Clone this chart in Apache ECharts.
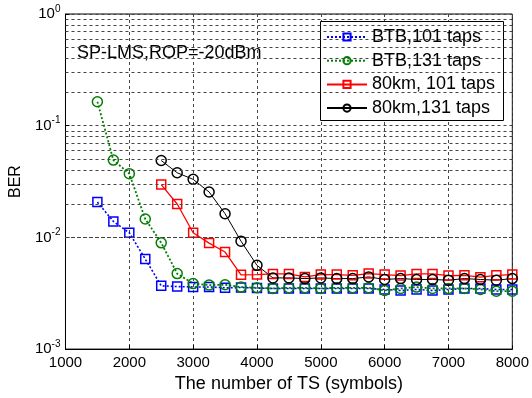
<!DOCTYPE html>
<html><head><meta charset="utf-8">
<script src="https://cdn.jsdelivr.net/npm/echarts@6/dist/echarts.min.js"></script>
<style>html,body{margin:0;padding:0;background:#fff}#c{width:532px;height:398px}</style>
</head><body><div id="c"></div>
<script>
const xBTB = [1500,1750,2000,2250,2500,2750,3000,3250,3500,3750,4000,4250,4500,4750,5000,5250,5500,5750,6000,6250,6500,6750,7000,7250,7500,7750,8000];
const x80km = [2500,2750,3000,3250,3500,3750,4000,4250,4500,4750,5000,5250,5500,5750,6000,6250,6500,6750,7000,7250,7500,7750,8000];
const berBTB101 = [0.0207,0.0139,0.0110,0.0064,0.00369,0.00363,0.0036,0.0036,0.00354,0.00356,0.00352,0.00349,0.00349,0.00349,0.00349,0.00349,0.00349,0.00349,0.00342,0.00335,0.00342,0.00335,0.00342,0.00349,0.00349,0.00342,0.00342];
const berBTB131 = [0.164,0.0492,0.0372,0.0146,0.00894,0.00474,0.00386,0.00374,0.00377,0.00359,0.00354,0.00349,0.00354,0.00354,0.00349,0.00354,0.00354,0.00354,0.00335,0.00349,0.00359,0.00349,0.00349,0.00349,0.00342,0.0033,0.0033];
const ber80km101 = [0.0297,0.0199,0.0110,0.00889,0.0074,0.00462,0.00465,0.00471,0.00471,0.00443,0.00465,0.00465,0.00458,0.00474,0.00465,0.00455,0.00471,0.00471,0.00455,0.00458,0.0044,0.00458,0.00465];
const ber80km131 = [0.0488,0.0379,0.0331,0.0255,0.0163,0.00925,0.00562,0.00434,0.00434,0.00428,0.00434,0.00428,0.00428,0.00443,0.0042,0.00428,0.0042,0.0042,0.00414,0.00428,0.0042,0.00414,0.00428];
const seriesNames = ['BTB,101 taps','BTB,131 taps','80km, 101 taps','80km,131 taps'];
const minorGridValues = [0.002,0.003,0.004,0.005,0.006,0.007,0.008,0.009,0.02,0.03,0.04,0.05,0.06,0.07,0.08,0.09,0.2,0.3,0.4,0.5,0.6,0.7,0.8,0.9];
const annotation = 'SP-LMS,ROP=-20dBm';

const FONT = 'Liberation Sans, Arial, sans-serif';
const gridDash = {color:'#444', width:1, type:[3,3]};
function pairs(xs, ys){ return xs.map((x,i)=>[x, ys[i]]); }
function mk(name, xs, ys, color, dotted, symbol, lw){
  return {
    name, type:'line', data:pairs(xs,ys),
    symbol, symbolSize: symbol==='rect'?9:10,
    lineStyle:{color, width:lw, type: dotted?[2,2]:'solid'},
    itemStyle:{color:'rgba(255,255,255,0)', borderColor:color, borderWidth:1.5},
    emphasis:{disabled:true}, animation:false
  };
}
const series = [
  mk(seriesNames[0], xBTB, berBTB101, '#0000ff', true, 'rect', 1.6),
  mk(seriesNames[1], xBTB, berBTB131, '#008000', true, 'circle', 1.8),
  mk(seriesNames[2], x80km, ber80km101, '#ff0000', false, 'rect', 1.3),
  mk(seriesNames[3], x80km, ber80km131, '#000000', false, 'circle', 1)
];
series.unshift({
  type:'line', data:[], silent:true, animation:false,
  markLine:{silent:true, symbol:['none','none'], label:{show:false}, animation:false,
    lineStyle:gridDash, data: minorGridValues.map(v=>({yAxis:v}))}
});
const chart = echarts.init(document.getElementById('c'), null, {renderer:'canvas'});
chart.setOption({
  animation:false,
  textStyle:{fontFamily:FONT},
  grid:{left:63, top:14, right:17, bottom:47, show:true, borderColor:'#000', borderWidth:1, containLabel:false},
  xAxis:{
    type:'value', min:1000, max:8000, interval:1000,
    name:'The number of TS (symbols)', nameLocation:'middle', nameGap:23,
    nameTextStyle:{fontSize:18, color:'#000', fontFamily:FONT},
    axisLine:{lineStyle:{color:'#000'}},
    axisTick:{inside:true, length:4, lineStyle:{color:'#000'}},
    axisLabel:{fontSize:15, color:'#000', margin:6, fontFamily:FONT, formatter:function(v){return String(v);}},
    splitLine:{show:true, lineStyle:gridDash}
  },
  yAxis:{
    type:'log', logBase:10, min:0.001, max:1,
    name:'BER', nameLocation:'middle', nameGap:39,
    nameTextStyle:{fontSize:16, color:'#000', fontFamily:FONT},
    axisLine:{show:true, lineStyle:{color:'#000'}},
    axisTick:{show:true, inside:true, length:4, lineStyle:{color:'#000'}},
    axisLabel:{margin:5, formatter:function(v){ const e=Math.round(Math.log10(v)); return '{b|10}{s|'+e+'}'; },
      rich:{b:{fontSize:15, color:'#000', fontFamily:FONT}, s:{fontSize:10, color:'#000', fontFamily:FONT, padding:[0,0,10,0]}}},
    splitLine:{show:true, lineStyle:gridDash}
  },
  legend:{
    orient:'vertical', left:320, top:21, data:seriesNames, z:10,
    backgroundColor:'transparent', borderWidth:0,
    padding:[6,2,5,6], itemWidth:40, itemHeight:9, itemGap:3.7,
    textStyle:{fontSize:18, color:'#000', fontFamily:FONT, lineHeight:20}
  },
  graphic:[
    {type:'rect', z:5, shape:{x:320.5, y:21.5, width:183, height:99}, style:{fill:'#fff', stroke:'#000', lineWidth:1}},
    {type:'text', z:5, left:77, top:44, style:{text:annotation, fontSize:18, fill:'#000', fontFamily:FONT}}
  ],
  series
});
</script></body></html>
